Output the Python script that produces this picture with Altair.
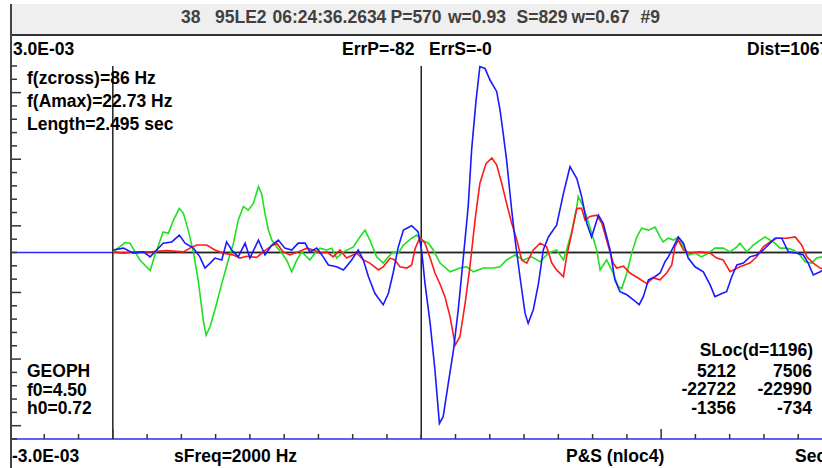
import altair as alt
import pandas as pd
import numpy as np

# ---------------- data (time in ms, amplitude in 1e-5 units) ----------------
green_t = [301,336,350,379,409,423,447,462,477,494,
           506,520,535,549,564,572,584,598,618,637,
           652,666,681,695,710,725,734,744,754,764,
           778,793,807,822,837,851,866,875,890,905,
           924,939,953,973,1002,1021,1036,1050,1070,1089,
           1104,1118,1133,1148,1172,1187,1201,1221,1235,1255,
           1284,1313,1333,1352,1381,1410,1430,1449,1474,1498,
           1522,1547,1571,1595,1615,1624,1639,1654,1658,1673,
           1692,1712,1722,1741,1760,1775,1785,1800,1814,1829,
           1843,1863,1882,1897,1906,1921,1936,1950,1965,1979,
           1999,2018,2038,2057,2081,2101,2121,2130,2150,2169,
           2189,2203,2218,2232,2247,2266,2286,2305,2320,2339,
           2354,2369,2381]
green_a = [1,16,15,-12,-29,-4,33,31,52,71,
           63,36,1,-44,-109,-133,-119,-92,-50,-12,
           15,52,74,68,79,106,95,63,36,20,
           9,-1,-12,-31,-12,1,-7,-12,-1,7,
           4,7,-9,1,9,25,36,20,-7,-17,
           -7,1,-1,12,23,28,20,15,4,-17,
           -31,-25,-23,-31,-25,-25,-23,-12,-4,-12,
           -7,-15,-1,4,-12,4,33,74,90,74,
           41,4,-28,-12,-33,-55,-58,-33,-1,25,
           39,36,41,25,17,23,20,25,9,-4,
           -1,-7,-1,7,7,1,9,15,1,12,
           20,25,20,15,7,7,4,-4,-15,-17,
           -9,-7,-4]

red_t = [301,331,360,409,457,506,525,545,574,598,
         622,652,671,691,720,739,759,778,797,817,
         841,866,885,905,924,943,963,982,1012,1031,
         1050,1075,1089,1109,1123,1138,1158,1172,1182,1196,
         1211,1226,1240,1255,1269,1284,1299,1313,1328,1342,
         1357,1371,1389,1406,1420,1435,1449,1464,1479,1493,
         1508,1527,1547,1566,1581,1595,1615,1624,1639,1654,
         1668,1678,1692,1712,1727,1741,1760,1770,1790,1809,
         1833,1858,1877,1897,1916,1931,1940,1950,1965,1984,
         2013,2043,2062,2081,2101,2130,2159,2179,2198,2218,
         2237,2266,2291,2310,2325,2344,2364,2381]
red_a = [1,-1,1,1,3,1,7,12,12,4,
         -1,-4,-9,-6,-8,1,9,15,1,-4,
         1,7,4,-1,1,-7,4,-9,-1,-12,
         -17,-28,-23,-9,-12,-23,-25,-20,6,24,
         15,-9,-33,-51,-71,-103,-149,-135,-82,-23,
         52,111,143,152,141,111,79,47,20,-12,
         -17,4,15,9,-17,-28,-39,-7,31,71,
         71,52,58,60,47,20,-17,-25,-22,-33,
         -41,-50,-41,-44,-33,-20,9,20,4,-1,
         1,-1,-9,-12,-31,-23,-17,-7,9,17,
         23,23,25,12,-7,-17,-25,-28]

blue_t = [301,331,360,389,409,428,447,472,494,511,
          535,554,569,584,598,618,632,647,666,686,
          700,725,744,764,783,802,822,841,861,875,
          895,914,929,953,973,997,1016,1031,1046,1065,
          1089,1104,1118,1133,1148,1172,1191,1201,1211,1226,
          1240,1253,1264,1279,1294,1308,1323,1337,1347,1360,
          1371,1386,1401,1420,1430,1439,1449,1464,1474,1488,
          1503,1512,1527,1542,1556,1571,1595,1615,1634,1654,
          1668,1683,1697,1717,1731,1751,1765,1780,1800,1819,
          1836,1848,1863,1882,1897,1911,1921,1936,1950,1965,
          1979,1999,2023,2043,2057,2077,2091,2106,2121,2140,
          2159,2179,2198,2218,2232,2252,2271,2296,2315,2329,
          2344,2364,2381]
blue_a = [4,7,-1,1,-7,4,15,17,28,15,
          7,-7,-25,-17,-9,-12,17,4,-7,15,
          -9,20,-4,12,20,7,4,15,15,1,
          7,-7,-20,-23,-28,-12,4,-12,-39,-66,
          -84,-66,-33,9,36,43,33,4,-50,-114,
          -189,-275,-264,-210,-157,-92,-7,74,165,245,
          299,296,277,259,229,192,149,68,20,-39,
          -98,-114,-92,-50,4,25,44,95,138,119,
          90,47,25,60,47,4,-44,-63,-68,-76,
          -84,-71,-44,-39,-33,-15,-7,9,25,15,
          -9,-23,-31,-52,-71,-66,-63,-39,-20,-17,
          -7,-4,4,15,23,23,1,-1,-4,-17,
          -36,-31,-25]

amp_limits = [300, -300]          # +/- 3.0E-03
pick_times = [300, 1200]          # P and S marker lines (ms)
tick_step_ms = 100
long_ticks_ms = [300, 1900]

title_groups = ["38", "95LE2", "06:24:36.2634", "P=570", "w=0.93", "S=829", "w=0.67", "#9"]
info_lines = ["f(zcross)=86 Hz", "f(Amax)=22.73 Hz", "Length=2.495 sec"]
sensor_lines = ["GEOPH", "f0=4.50", "h0=0.72"]
sloc_header = "SLoc(d=1196)"
sloc_col1 = ["5212", "-22722", "-1356"]
sloc_col2 = ["7506", "-22990", "-734"]

# ---------------- scales ----------------
W, H = 822, 468
xs = alt.Scale(domain=[-29.18, 2369.4], nice=False, zero=False)
ys = alt.Scale(domain=[-346.6, 406.1], nice=False, zero=False)
X = lambda f: alt.X(f, scale=xs, axis=None)
Y = lambda f: alt.Y(f, scale=ys, axis=None)

FONT = "Liberation Sans"
layers = []

# title bar
layers.append(alt.Chart(pd.DataFrame({"k": [0]})).mark_rect(color="#efefef").encode(
    x=alt.value(11), x2=alt.value(822), y=alt.value(4), y2=alt.value(35)))
layers.append(alt.Chart(pd.DataFrame({"k": [0]})).mark_rule(color="#333333", strokeWidth=2).encode(
    x=alt.value(11), x2=alt.value(822), y=alt.value(35)))
layers.append(alt.Chart(pd.DataFrame({"k": [0]})).mark_rule(color="#444444", strokeWidth=2).encode(
    x=alt.value(11), y=alt.value(4), y2=alt.value(468)))

# baselines (blue)
layers.append(alt.Chart(pd.DataFrame({"a": [0, amp_limits[1]]})).mark_rule(color="#2a2aff", strokeWidth=1.5).encode(
    y=Y("a:Q"), x=alt.value(11), x2=alt.value(822)))
# black zero line from first pick to the end
layers.append(alt.Chart(pd.DataFrame({"t": [pick_times[0]], "a": [0]})).mark_rule(color="#222222", strokeWidth=1.5).encode(
    x=X("t:Q"), x2=alt.value(822), y=Y("a:Q")))
# pick lines
layers.append(alt.Chart(pd.DataFrame({"t": pick_times, "a1": [amp_limits[0]] * 2, "a2": [amp_limits[1]] * 2}))
              .mark_rule(color="#222222", strokeWidth=1.5).encode(x=X("t:Q"), y=Y("a1:Q"), y2="a2:Q"))

# left ticks
k = np.arange(29)
tick_a = amp_limits[0] - k * (amp_limits[0] - amp_limits[1]) / 28.0
tdf = pd.DataFrame({"a": tick_a, "long": (k % 5 == 2)})
layers.append(alt.Chart(tdf[~tdf["long"]]).mark_rule(color="#333333", strokeWidth=1.5).encode(
    y=Y("a:Q"), x=alt.value(11), x2=alt.value(17)))
layers.append(alt.Chart(tdf[tdf["long"]]).mark_rule(color="#333333", strokeWidth=1.5).encode(
    y=Y("a:Q"), x=alt.value(11), x2=alt.value(21)))

# bottom ticks
bt = np.arange(tick_step_ms, 2400, tick_step_ms)
bdf = pd.DataFrame({"t": bt, "a": amp_limits[1]})
layers.append(alt.Chart(bdf[~bdf["t"].isin(long_ticks_ms)]).mark_rule(color="#333333", strokeWidth=1.5).encode(
    x=X("t:Q"), y=Y("a:Q"), y2=alt.value(434)))
layers.append(alt.Chart(bdf[bdf["t"].isin(long_ticks_ms)]).mark_rule(color="#333333", strokeWidth=1.5).encode(
    x=X("t:Q"), y=Y("a:Q"), y2=alt.value(429)))

# traces
def trace(t, a, color):
    df = pd.DataFrame({"t": t, "a": a, "i": range(len(t))})
    return alt.Chart(df).mark_line(color=color, strokeWidth=1.6, clip=True).encode(
        x=X("t:Q"), y=Y("a:Q"), order="i:Q")

layers.append(trace(green_t, green_a, "#1ee01e"))
layers.append(trace(red_t, red_a, "#ff1a1a"))
layers.append(trace(blue_t, blue_a, "#1a1aff"))

# text
def label(s, x, y, align="left", size=17.5, color="#000000", weight="bold", font=FONT):
    return alt.Chart(pd.DataFrame({"s": [s]})).mark_text(
        align=align, baseline="middle", fontSize=size, fontWeight=weight, font=font, color=color
    ).encode(text="s:N", x=alt.value(x), y=alt.value(y))

title_x = [181, 215, 272.5, 390.5, 448, 516.5, 571.5, 640.5]
for s, x in zip(title_groups, title_x):
    layers.append(label(s, x, 18, size=17.5, color="#404040", weight="bold"))

layers.append(label("3.0E-03", 13, 50))
layers.append(label("ErrP=-82", 342, 50))
layers.append(label("ErrS=-0", 429, 50))
layers.append(label("Dist=1067", 747, 50))
for s, y in zip(info_lines, [79, 102, 124.5]):
    layers.append(label(s, 27, y))
for s, y in zip(sensor_lines, [372, 390.5, 409]):
    layers.append(label(s, 27, y))
layers.append(label(sloc_header, 813, 351, align="right"))
for a_, b_, y in zip(sloc_col1, sloc_col2, [371.5, 390, 409]):
    layers.append(label(a_, 736, y, align="right"))
    layers.append(label(b_, 812, y, align="right"))
layers.append(label("-3.0E-03", 12, 457))
layers.append(label("sFreq=2000 Hz", 174, 457))
layers.append(label("P&S (nloc4)", 566, 457))
layers.append(label("Sec", 795, 457))

chart = alt.layer(*layers).properties(
    width=W, height=H, padding=0, autosize=alt.AutoSizeParams(type="none"), background="white"
).configure_view(stroke=None)

chart.save("out.html", embed_options={"renderer": "svg", "actions": False})
